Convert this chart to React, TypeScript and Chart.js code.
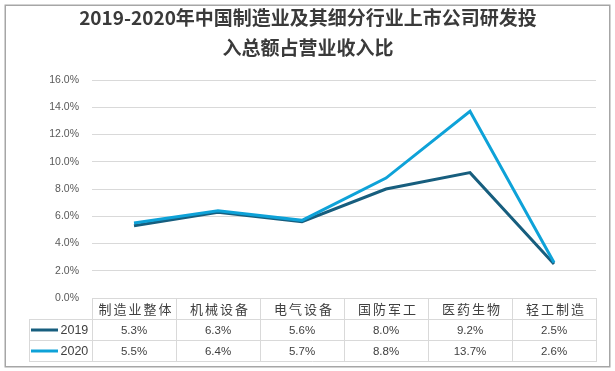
import React, { useEffect, useRef } from "react";
import { Chart, registerables } from "chart.js";

Chart.register(...registerables);

const titleLines = ["2019-2020年中国制造业及其细分行业上市公司研发投", "入总额占营业收入比"];
const categories = ["制造业整体", "机械设备", "电气设备", "国防军工", "医药生物", "轻工制造"];
const seriesNames = ["2019", "2020"];
const values2019 = [5.3, 6.3, 5.6, 8.0, 9.2, 2.5];
const values2020 = [5.5, 6.4, 5.7, 8.8, 13.7, 2.6];
const tableText2019 = ["5.3%", "6.3%", "5.6%", "8.0%", "9.2%", "2.5%"];
const tableText2020 = ["5.5%", "6.4%", "5.7%", "8.8%", "13.7%", "2.6%"];
const yMin = 0;
const yMax = 16;
const yStep = 2;

const colors = ["#175e7e", "#0ea2d8"];
const CJK = '"Noto Sans CJK SC", sans-serif';
const LAT = '"Liberation Sans", Arial, sans-serif';

const tablePlugin = {
  id: "dataTable",
  afterDraw(chart: any) {
    const { ctx, chartArea } = chart;
    const xs = chart.scales.x;
    const n = categories.length;
    const colW = (chartArea.right - chartArea.left) / n;
    const rowH = 21;
    const top = Math.round(chartArea.bottom);
    const legendLeft = 29;
    const rows = [top, top + rowH, top + 2 * rowH, top + 3 * rowH];
    ctx.save();
    ctx.strokeStyle = "#d9d9d9";
    ctx.lineWidth = 1;
    ctx.beginPath();
    ctx.moveTo(chartArea.left, rows[0] + 0.5);
    ctx.lineTo(chartArea.right, rows[0] + 0.5);
    for (let r = 1; r < rows.length; r++) {
      ctx.moveTo(legendLeft, rows[r] + 0.5);
      ctx.lineTo(chartArea.right, rows[r] + 0.5);
    }
    for (let i = 0; i <= n; i++) {
      const x = Math.round(xs.getPixelForValue(0) - colW / 2 + i * colW) + 0.5;
      ctx.moveTo(x, rows[0]);
      ctx.lineTo(x, rows[3] + 1);
    }
    ctx.moveTo(legendLeft + 0.5, rows[1]);
    ctx.lineTo(legendLeft + 0.5, rows[3] + 1);
    ctx.stroke();

    ctx.fillStyle = "#404040";
    ctx.textAlign = "center";
    ctx.textBaseline = "middle";
    ctx.font = `13px ${CJK}`;
    const ls = 2;
    (ctx as any).letterSpacing = `${ls}px`;
    categories.forEach((c, i) => {
      ctx.fillText(c, xs.getPixelForValue(i) + ls / 2 + 1, rows[0] + rowH / 2 + 1);
    });
    (ctx as any).letterSpacing = "0px";

    ctx.font = `11.5px ${LAT}`;
    const texts = [tableText2019, tableText2020];
    texts.forEach((arr, r) => {
      arr.forEach((t, i) => {
        ctx.fillText(t, xs.getPixelForValue(i), rows[r + 1] + rowH / 2 + 1);
      });
    });

    seriesNames.forEach((name, r) => {
      const cy = rows[r + 1] + rowH / 2 + 0.5;
      ctx.strokeStyle = colors[r];
      ctx.lineWidth = 3;
      ctx.beginPath();
      ctx.moveTo(31, cy);
      ctx.lineTo(58, cy);
      ctx.stroke();
      ctx.fillStyle = "#404040";
      ctx.textAlign = "left";
      ctx.font = `12.5px ${LAT}`;
      ctx.fillText(name, 60.5, cy + 0.5);
    });

    ctx.strokeStyle = "#a6a6a6";
    ctx.lineWidth = 1.5;
    ctx.strokeRect(5.25, 5.25, 604.5, 361.5);
    ctx.restore();
  },
};

export default function App() {
  const ref = useRef<HTMLCanvasElement>(null);
  useEffect(() => {
    document.body.style.margin = "0";
    const canvas = ref.current!;
    const chart = new Chart(canvas, {
      type: "line",
      data: {
        labels: categories,
        datasets: [
          {
            label: seriesNames[0],
            data: values2019,
            borderColor: colors[0],
            backgroundColor: colors[0],
            borderWidth: 3,
            pointRadius: 0,
            tension: 0,
            order: 1,
          },
          {
            label: seriesNames[1],
            data: values2020,
            borderColor: colors[1],
            backgroundColor: colors[1],
            borderWidth: 3,
            pointRadius: 0,
            tension: 0,
            order: 0,
          },
        ],
      },
      options: {
        responsive: false,
        devicePixelRatio: 1,
        animation: false,
        layout: { padding: { left: 10, right: 9, top: 0, bottom: 73 } },
        plugins: {
          legend: { display: false },
          tooltip: { enabled: false },
          title: {
            display: true,
            text: titleLines,
            color: "#3a3a3a",
            font: { family: CJK, size: 19, weight: "bold", lineHeight: "30px" } as any,
            padding: { top: 3, bottom: 17 },
          },
        },
        scales: {
          x: {
            type: "category",
            offset: true,
            ticks: { display: false },
            grid: { display: false, drawTicks: false },
            border: { display: false },
          },
          y: {
            min: yMin,
            max: yMax,
            ticks: {
              stepSize: yStep,
              padding: 13,
              color: "#595959",
              font: { family: LAT, size: 10.5 },
              callback: (v: any) => Number(v).toFixed(1) + "%",
            },
            grid: { color: "#d9d9d9", lineWidth: 1, drawTicks: false },
            border: { display: false },
            afterFit: (scale: any) => {
              scale.width = 82;
              scale.paddingTop = 0;
              scale.paddingBottom = 0;
            },
          },
          y2: {
            type: "linear",
            position: "right",
            display: true,
            ticks: { display: false },
            grid: { display: false, drawTicks: false },
            border: { display: false },
            afterFit: (scale: any) => {
              scale.width = 10;
              scale.paddingTop = 0;
              scale.paddingBottom = 0;
            },
          },
        },
      },
      plugins: [tablePlugin],
    });
    return () => chart.destroy();
  }, []);
  return (
    <div style={{ position: "absolute", left: 0, top: 0, width: 615, height: 371, background: "#fff" }}>
      <canvas ref={ref} width={615} height={371} style={{ display: "block" }} />
    </div>
  );
}
